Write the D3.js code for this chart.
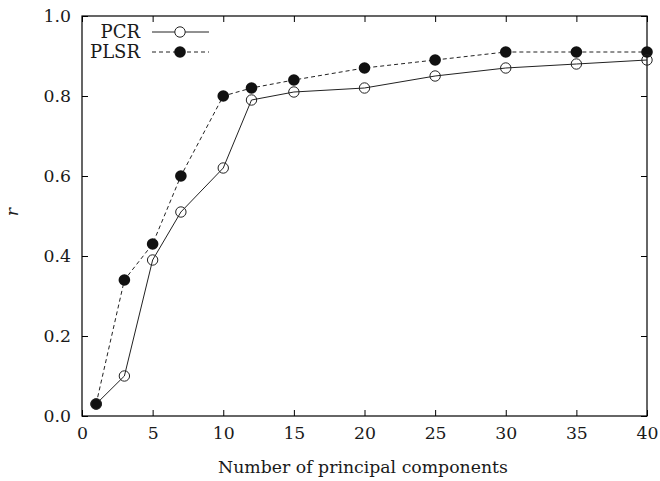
<!DOCTYPE html>
<html><head><meta charset="utf-8">
<script src="https://cdn.jsdelivr.net/npm/d3@7"></script>
<style>body{margin:0;background:#fff}svg{display:block}</style>
</head><body>
<script>
const components = [1, 3, 5, 7, 10, 12, 15, 20, 25, 30, 35, 40];
const pcr  = [0.03, 0.10, 0.39, 0.51, 0.62, 0.79, 0.81, 0.82, 0.85, 0.87, 0.88, 0.89];
const plsr = [0.03, 0.34, 0.43, 0.60, 0.80, 0.82, 0.84, 0.87, 0.89, 0.91, 0.91, 0.91];
const xTicks = [0, 5, 10, 15, 20, 25, 30, 35, 40];
const yTicks = [0, 0.2, 0.4, 0.6, 0.8, 1.0];
const seriesNames = ["PCR", "PLSR"];

const W = 660, H = 481;
const m = {l: 82, r: 13, t: 16, b: 65};
const font = "'DejaVu Serif', serif";
const fs = 17.3;
const svg = d3.select("body").append("svg").attr("width", W).attr("height", H);
const x = d3.scaleLinear().domain([0, 40]).range([m.l, W - m.r]);
const y = d3.scaleLinear().domain([0, 1]).range([H - m.b, m.t]);
const tl = 6;

// frame
svg.append("rect").attr("x", m.l).attr("y", m.t).attr("width", W - m.r - m.l).attr("height", H - m.b - m.t)
  .attr("fill", "none").attr("stroke", "#000").attr("stroke-width", 1.2);

// axes with inward ticks
const ax = (g, axis) => { g.call(axis); g.select(".domain").remove(); g.selectAll("line").attr("stroke", "#000").attr("stroke-width", 1); g.selectAll("text").attr("font-family", font).attr("font-size", fs).attr("fill", "#1a1a1a"); };
svg.append("g").attr("transform", `translate(0,${H - m.b})`).call(g => ax(g, d3.axisBottom(x).tickValues(xTicks).tickSize(-tl).tickPadding(11).tickFormat(d3.format("d"))));
svg.append("g").attr("transform", `translate(0,${m.t})`).call(g => ax(g, d3.axisTop(x).tickValues(xTicks).tickSize(-tl).tickFormat("")));
svg.append("g").attr("transform", `translate(${m.l},0)`).call(g => ax(g, d3.axisLeft(y).tickValues(yTicks).tickSize(-tl).tickPadding(11).tickFormat(d3.format(".1f"))));
svg.append("g").attr("transform", `translate(${W - m.r},0)`).call(g => ax(g, d3.axisRight(y).tickValues(yTicks).tickSize(-tl).tickFormat("")));

// titles
svg.append("text").attr("x", 363).attr("y", 473).attr("text-anchor", "middle")
  .attr("font-family", font).attr("font-size", fs).attr("fill", "#1a1a1a").text("Number of principal components");
svg.append("text").attr("transform", "translate(18,212) rotate(-90)").attr("text-anchor", "middle")
  .attr("font-family", font).attr("font-style", "italic").attr("font-size", fs).attr("fill", "#1a1a1a").text("r");

const line = d3.line().x(d => x(d[0])).y(d => y(d[1]));
const d1 = components.map((c, i) => [c, pcr[i]]);
const d2 = components.map((c, i) => [c, plsr[i]]);

svg.append("path").attr("d", line(d2)).attr("fill", "none").attr("stroke", "#222").attr("stroke-width", 1).attr("stroke-dasharray", "4,3");
svg.append("path").attr("d", line(d1)).attr("fill", "none").attr("stroke", "#222").attr("stroke-width", 1);

svg.selectAll(".p2").data(d2).join("circle").attr("cx", d => x(d[0])).attr("cy", d => y(d[1])).attr("r", 5.8).attr("fill", "#111");
svg.selectAll(".p1").data(d1).join("circle").attr("cx", d => x(d[0])).attr("cy", d => y(d[1])).attr("r", 5.2).attr("fill", "none").attr("stroke", "#222").attr("stroke-width", 1);

// legend
const leg = [{name: seriesNames[0], y: 32, dash: null, filled: false}, {name: seriesNames[1], y: 52, dash: "4,3", filled: true}];
leg.forEach(l => {
  svg.append("text").attr("x", 140).attr("y", l.y + 6).attr("text-anchor", "end").attr("font-family", font).attr("font-size", 18).attr("fill", "#1a1a1a").text(l.name);
  svg.append("line").attr("x1", 152).attr("x2", 209).attr("y1", l.y).attr("y2", l.y).attr("stroke", "#222").attr("stroke-width", 1).attr("stroke-dasharray", l.dash);
  const c = svg.append("circle").attr("cx", 180).attr("cy", l.y);
  if (l.filled) c.attr("r", 5.8).attr("fill", "#111");
  else c.attr("r", 5.2).attr("fill", "#fff").attr("stroke", "#222").attr("stroke-width", 1);
});
</script>
</body></html>
